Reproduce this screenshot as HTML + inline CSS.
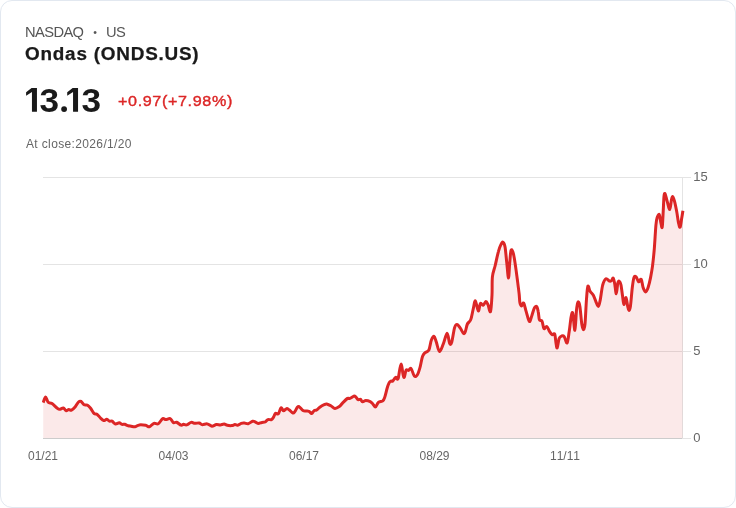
<!DOCTYPE html>
<html><head><meta charset="utf-8"><title>Ondas (ONDS.US)</title>
<style>
html,body{margin:0;padding:0;background:#fff;}
body{width:736px;height:508px;overflow:hidden;font-family:"Liberation Sans",sans-serif;}
.card{position:absolute;left:0;top:0;width:734px;height:506px;border:1px solid #e2e8f0;border-radius:12px;background:#fff;}
.t{will-change:transform;position:absolute;white-space:nowrap;line-height:1;}
#exch{left:25px;top:24.5px;font-size:14.7px;color:#555;letter-spacing:-0.6px;}
#exch .dot{display:inline-block;width:22.5px;text-align:center;font-size:10.5px;vertical-align:1px;}
#name{-webkit-text-stroke:0.25px #1a1a1a;left:25.3px;top:44.6px;font-size:18px;font-weight:700;color:#1a1a1a;letter-spacing:0.74px;transform:scaleX(1.05);transform-origin:0 0;}
#price{left:23.5px;top:82.5px;font-size:33.5px;font-weight:700;color:#1a1a1a;letter-spacing:-1.7px;}
#chg{left:118px;top:93px;font-size:15.5px;color:#dc2626;letter-spacing:0.61px;transform:scaleX(1.04);transform-origin:0 0;-webkit-text-stroke:0.4px #dc2626;}
#close{left:25.5px;top:137.5px;font-size:12px;color:#666;letter-spacing:0.36px;}
svg{position:absolute;left:0;top:0;will-change:transform;}
svg text{font-family:"Liberation Sans",sans-serif;font-size:12px;fill:#666;font-kerning:none;}
svg .yl text{font-size:13px;}
</style></head><body>
<div class="card"></div>
<div class="t" id="exch">NASDAQ<span class="dot">•</span>US</div>
<div class="t" id="name">Ondas (ONDS.US)</div>
<div class="t" id="chg">+0.97(+7.98%)</div>
<div class="t" id="close">At close:2026/1/20</div>
<svg width="736" height="508" viewBox="0 0 736 508">
<g stroke="#e4e4e4" stroke-width="1" shape-rendering="crispEdges">
<line x1="43" y1="177.5" x2="691" y2="177.5"/>
<line x1="43" y1="264.5" x2="691" y2="264.5"/>
<line x1="43" y1="351.5" x2="691" y2="351.5"/>
<line x1="682" y1="438.5" x2="691" y2="438.5"/>
<line x1="682.5" y1="177" x2="682.5" y2="438"/>
</g>
<path d="M43.2,402.6C43.6,401.7 44.7,397.1 45.5,397.0C46.3,396.9 47.1,401.2 48.2,402.3C49.3,403.4 50.4,402.4 52.0,403.5C53.6,404.6 56.3,407.7 57.7,408.6C59.1,409.6 59.3,409.3 60.2,409.2C61.1,409.1 62.3,407.8 63.3,408.0C64.3,408.2 65.2,410.4 66.1,410.7C67.0,410.9 67.9,409.6 68.8,409.5C69.7,409.4 70.4,410.6 71.5,410.1C72.6,409.6 74.1,408.1 75.3,406.7C76.5,405.3 77.5,402.9 78.5,402.0C79.5,401.1 80.1,400.9 81.0,401.4C81.9,401.9 83.0,404.2 84.1,404.8C85.1,405.4 86.2,404.7 87.3,405.2C88.3,405.7 89.2,406.6 90.4,408.0C91.6,409.4 93.1,412.6 94.2,413.6C95.3,414.6 96.0,413.5 97.0,414.2C98.0,414.9 99.4,416.9 100.5,418.0C101.6,419.1 102.7,420.3 103.7,420.5C104.8,420.7 105.8,419.2 106.8,419.3C107.8,419.4 108.5,420.9 109.4,421.2C110.3,421.5 111.1,420.7 112.1,421.2C113.1,421.7 114.2,423.7 115.4,424.0C116.6,424.3 118.1,422.8 119.2,422.8C120.3,422.9 121.1,424.1 122.0,424.3C122.9,424.6 123.7,424.1 124.7,424.3C125.8,424.6 127.2,425.5 128.3,425.8C129.4,426.1 130.1,426.0 131.2,426.2C132.3,426.4 133.6,427.0 134.9,426.8C136.2,426.6 137.5,425.1 139.3,424.9C141.1,424.6 144.0,425.0 145.7,425.3C147.4,425.6 148.0,427.1 149.4,426.8C150.8,426.5 152.4,423.8 153.9,423.3C155.4,422.8 156.8,424.5 158.3,423.7C159.8,422.9 161.4,419.3 162.7,418.6C163.9,417.9 164.6,419.6 165.8,419.6C167.1,419.6 168.9,418.1 170.2,418.6C171.5,419.1 172.3,422.1 173.4,422.7C174.5,423.3 175.3,421.8 176.6,422.2C177.9,422.6 179.8,424.8 181.0,425.2C182.2,425.6 182.6,424.4 183.5,424.3C184.4,424.2 185.3,425.2 186.6,424.9C187.9,424.6 189.7,422.7 191.1,422.4C192.5,422.1 193.5,423.2 194.8,423.3C196.2,423.4 197.9,422.8 199.2,423.0C200.5,423.2 201.0,424.6 202.4,424.7C203.8,424.8 205.8,423.6 207.4,423.9C209.0,424.1 210.4,426.1 211.9,426.2C213.4,426.3 214.9,424.8 216.3,424.6C217.7,424.4 219.1,425.0 220.4,424.9C221.7,424.8 223.0,424.0 224.2,424.1C225.3,424.2 226.0,425.1 227.3,425.3C228.6,425.6 230.5,425.7 231.8,425.6C233.1,425.5 233.9,424.7 234.9,424.6C235.9,424.5 236.6,425.4 237.7,425.2C238.8,425.0 240.1,423.7 241.2,423.3C242.3,422.9 243.2,422.9 244.4,423.0C245.6,423.1 246.8,424.0 248.2,423.7C249.6,423.4 251.4,421.5 252.6,421.2C253.8,420.9 254.2,421.4 255.1,421.8C256.0,422.2 257.1,423.3 258.2,423.4C259.3,423.5 260.8,422.6 262.0,422.4C263.2,422.2 264.2,422.5 265.2,422.0C266.2,421.5 266.9,420.0 268.0,419.6C269.1,419.2 270.5,420.1 271.5,419.6C272.5,419.1 273.1,417.8 273.8,416.7C274.5,415.6 274.7,413.8 275.5,413.3C276.3,412.8 277.5,414.7 278.4,413.8C279.3,412.9 280.1,408.4 281.0,407.9C281.9,407.4 282.6,410.7 283.5,410.8C284.4,410.9 285.7,408.8 286.6,408.6C287.5,408.4 288.1,409.1 289.1,409.8C290.2,410.5 291.9,412.7 292.9,413.0C293.8,413.3 294.1,412.6 294.8,411.7C295.5,410.8 296.6,408.1 297.3,407.3C298.0,406.5 298.2,406.2 299.2,406.7C300.1,407.2 301.9,409.7 303.0,410.4C304.1,411.1 304.5,411.0 305.5,411.1C306.5,411.2 308.0,410.9 309.0,411.3C310.0,411.7 310.8,413.6 311.6,413.5C312.5,413.4 313.3,411.2 314.1,410.6C314.9,410.0 315.7,410.6 316.6,410.0C317.6,409.4 318.5,408.1 319.8,407.2C321.1,406.3 323.1,405.2 324.2,404.7C325.3,404.2 325.5,403.8 326.7,404.0C327.9,404.2 329.7,405.3 331.1,406.0C332.5,406.7 333.5,408.3 334.9,408.4C336.3,408.5 338.0,407.5 339.3,406.6C340.6,405.7 341.1,404.5 342.5,403.1C343.9,401.7 346.2,399.2 347.5,398.4C348.8,397.6 348.9,398.8 350.0,398.4C351.1,398.0 352.9,396.5 353.8,396.2C354.8,395.9 355.0,396.2 355.7,396.8C356.4,397.4 357.4,399.3 358.2,399.7C359.0,400.1 359.8,398.9 360.5,399.3C361.2,399.7 361.7,401.6 362.6,401.8C363.5,402.0 364.5,400.6 365.8,400.6C367.1,400.6 369.1,401.1 370.2,401.6C371.3,402.1 371.8,402.8 372.7,403.7C373.6,404.6 374.6,407.1 375.5,406.9C376.4,406.7 377.2,403.4 378.4,402.4C379.6,401.4 381.8,401.6 382.8,400.8C383.9,400.0 384.0,399.5 384.7,397.4C385.4,395.3 386.5,390.4 387.2,388.0C387.9,385.6 388.5,384.1 389.1,382.9C389.7,381.7 390.4,381.3 391.0,381.0C391.6,380.7 392.1,381.5 392.6,381.2C393.1,380.9 393.5,379.8 394.1,379.2C394.7,378.6 395.3,377.4 396.0,377.3C396.7,377.2 397.3,380.8 398.1,378.6C398.9,376.4 400.1,364.3 401.0,364.1C401.9,363.9 402.9,376.3 403.8,377.3C404.7,378.3 405.3,371.2 406.1,370.1C406.9,369.0 407.8,370.7 408.6,370.4C409.4,370.1 410.2,367.6 411.1,368.5C412.1,369.4 413.2,374.9 414.3,376.0C415.4,377.1 416.5,376.2 417.4,374.8C418.3,373.4 419.0,370.9 419.9,367.9C420.8,364.8 421.6,359.0 422.5,356.5C423.4,354.0 423.9,353.8 425.0,352.7C426.1,351.6 427.8,352.3 428.8,350.2C429.9,348.1 430.4,342.5 431.3,340.2C432.2,337.9 433.3,336.1 434.1,336.4C434.9,336.7 435.4,339.5 436.3,342.0C437.2,344.5 438.3,351.2 439.5,351.5C440.7,351.8 442.0,346.9 443.3,343.9C444.6,340.8 446.1,333.3 447.1,333.2C448.2,333.1 448.8,341.8 449.6,343.3C450.4,344.8 450.9,345.0 451.7,342.4C452.5,339.8 453.7,330.6 454.6,327.6C455.5,324.6 456.2,324.3 457.1,324.4C458.1,324.5 459.2,326.7 460.3,328.2C461.4,329.7 462.7,333.0 463.6,333.5C464.5,334.0 464.9,332.6 465.5,331.0C466.1,329.4 466.5,325.9 467.4,324.0C468.3,322.1 469.7,322.3 470.7,319.8C471.7,317.3 472.4,312.2 473.2,309.1C474.0,306.0 474.5,300.6 475.4,300.9C476.2,301.2 477.5,310.6 478.3,311.0C479.1,311.4 479.6,304.3 480.4,303.4C481.2,302.4 482.1,305.6 483.0,305.3C483.9,305.0 485.1,301.7 485.9,301.6C486.7,301.5 487.2,303.0 488.0,304.7C488.8,306.4 489.8,313.2 490.5,311.6C491.2,310.0 491.7,300.8 492.0,295.0C492.3,289.2 491.9,281.7 492.4,276.8C492.9,271.9 494.2,269.7 495.2,265.5C496.2,261.3 497.4,255.1 498.4,251.6C499.3,248.1 500.1,246.3 500.9,244.7C501.7,243.1 502.3,241.8 503.0,242.2C503.7,242.6 504.5,243.7 505.1,247.2C505.7,250.7 506.2,257.9 506.8,263.0C507.4,268.1 508.0,278.1 508.5,278.1C509.0,278.1 509.3,267.2 509.7,263.0C510.1,258.8 510.3,255.1 510.6,252.9C510.9,250.7 511.1,249.5 511.6,249.7C512.1,249.9 512.8,251.4 513.5,254.2C514.2,257.0 515.0,262.5 515.6,266.7C516.2,270.9 516.7,274.7 517.3,279.3C517.9,283.9 518.8,290.6 519.2,294.5C519.6,298.4 519.5,300.9 519.9,302.8C520.3,304.7 520.9,305.9 521.5,306.0C522.1,306.1 522.9,302.2 523.7,303.1C524.5,304.0 525.2,308.5 526.2,311.6C527.2,314.7 528.5,320.9 529.4,321.5C530.3,322.1 531.1,317.7 531.9,315.4C532.7,313.1 533.6,309.4 534.4,307.9C535.2,306.4 536.1,306.0 536.7,306.6C537.3,307.2 537.8,309.4 538.2,311.6C538.7,313.8 538.8,318.2 539.4,319.8C540.0,321.4 541.2,319.6 542.0,321.1C542.8,322.6 543.1,327.7 543.9,328.6C544.7,329.5 545.8,326.0 546.8,326.5C547.8,327.0 548.8,330.2 549.7,331.6C550.6,333.0 551.4,334.3 552.2,334.7C553.0,335.1 554.1,332.7 554.7,334.1C555.3,335.5 555.6,340.6 556.0,342.9C556.4,345.2 556.7,348.6 557.2,347.9C557.7,347.2 558.4,340.5 559.1,338.5C559.9,336.5 560.9,336.3 561.7,336.0C562.6,335.7 563.3,335.5 564.2,336.6C565.1,337.8 566.3,343.7 567.1,342.9C567.9,342.1 568.5,335.9 569.2,331.6C569.9,327.3 570.5,320.2 571.1,317.1C571.7,314.1 572.2,311.1 572.8,313.3C573.4,315.5 574.3,330.8 574.9,330.3C575.5,329.8 576.0,314.9 576.5,310.2C577.0,305.5 577.4,302.6 578.0,302.0C578.6,301.4 579.3,302.7 579.9,306.4C580.5,310.1 581.2,320.1 581.8,324.0C582.4,327.9 582.8,329.7 583.3,329.7C583.8,329.7 584.5,329.1 585.0,324.0C585.5,318.9 586.0,305.3 586.5,299.0C587.0,292.7 587.3,287.5 587.9,286.2C588.5,284.9 589.2,289.8 590.1,291.3C591.0,292.8 592.2,293.3 593.2,295.0C594.2,296.7 594.9,299.4 595.8,301.3C596.6,303.2 597.6,306.6 598.3,306.4C599.0,306.2 599.5,303.7 600.2,300.1C600.9,296.5 601.8,288.6 602.7,285.0C603.7,281.4 604.8,279.3 605.9,278.7C607.0,278.1 608.7,280.9 609.6,281.2C610.5,281.5 610.9,281.1 611.5,280.6C612.1,280.1 612.7,277.5 613.2,278.0C613.7,278.5 614.2,281.1 614.7,283.7C615.2,286.3 615.8,293.9 616.3,293.8C616.8,293.7 617.3,285.2 617.8,283.1C618.3,281.0 618.8,280.9 619.3,281.2C619.8,281.5 620.5,282.5 621.0,285.0C621.5,287.5 622.1,293.1 622.6,296.3C623.1,299.6 623.3,304.3 623.9,304.5C624.5,304.7 625.4,297.3 626.0,297.6C626.6,297.9 627.2,304.3 627.7,306.4C628.2,308.5 628.5,310.4 628.9,310.4C629.3,310.4 629.8,310.2 630.4,306.4C631.0,302.6 631.7,292.3 632.3,287.5C632.9,282.7 633.4,279.2 634.0,277.4C634.6,275.6 635.3,276.1 636.1,276.8C636.9,277.5 637.8,281.4 638.6,281.8C639.5,282.2 640.5,278.4 641.2,279.3C642.0,280.2 642.4,285.4 643.1,287.5C643.8,289.6 644.8,291.9 645.6,291.9C646.4,291.9 647.3,289.9 648.1,287.5C648.9,285.1 649.9,281.0 650.6,277.4C651.3,273.8 651.9,270.7 652.5,266.1C653.1,261.5 653.6,256.8 654.2,250.0C654.8,243.2 655.4,230.7 655.9,225.3C656.4,219.9 656.5,219.6 657.1,217.8C657.7,216.0 658.7,213.8 659.3,214.6C659.9,215.4 660.4,220.7 660.9,222.8C661.4,224.9 661.8,229.1 662.2,227.2C662.6,225.3 662.9,216.6 663.2,211.5C663.5,206.4 663.7,199.3 664.0,196.4C664.3,193.5 664.6,193.1 665.1,193.9C665.6,194.7 666.4,198.8 667.2,201.4C668.0,204.0 669.0,209.8 669.7,209.6C670.4,209.4 670.9,202.4 671.4,200.2C671.9,198.0 672.1,196.3 672.6,196.4C673.1,196.5 673.7,198.3 674.4,200.8C675.1,203.3 676.0,207.8 676.7,211.5C677.4,215.2 677.9,220.2 678.5,222.8C679.1,225.4 679.6,227.9 680.1,227.2C680.6,226.4 681.2,221.0 681.7,218.3C682.2,215.6 682.7,212.1 682.9,210.8L682.5,438L43.2,438Z" fill="rgba(220,38,38,0.1)" stroke="none"/>
<line x1="43" y1="438.5" x2="682" y2="438.5" stroke="#ccc" stroke-width="1" shape-rendering="crispEdges"/>
<path d="M43.2,402.6C43.6,401.7 44.7,397.1 45.5,397.0C46.3,396.9 47.1,401.2 48.2,402.3C49.3,403.4 50.4,402.4 52.0,403.5C53.6,404.6 56.3,407.7 57.7,408.6C59.1,409.6 59.3,409.3 60.2,409.2C61.1,409.1 62.3,407.8 63.3,408.0C64.3,408.2 65.2,410.4 66.1,410.7C67.0,410.9 67.9,409.6 68.8,409.5C69.7,409.4 70.4,410.6 71.5,410.1C72.6,409.6 74.1,408.1 75.3,406.7C76.5,405.3 77.5,402.9 78.5,402.0C79.5,401.1 80.1,400.9 81.0,401.4C81.9,401.9 83.0,404.2 84.1,404.8C85.1,405.4 86.2,404.7 87.3,405.2C88.3,405.7 89.2,406.6 90.4,408.0C91.6,409.4 93.1,412.6 94.2,413.6C95.3,414.6 96.0,413.5 97.0,414.2C98.0,414.9 99.4,416.9 100.5,418.0C101.6,419.1 102.7,420.3 103.7,420.5C104.8,420.7 105.8,419.2 106.8,419.3C107.8,419.4 108.5,420.9 109.4,421.2C110.3,421.5 111.1,420.7 112.1,421.2C113.1,421.7 114.2,423.7 115.4,424.0C116.6,424.3 118.1,422.8 119.2,422.8C120.3,422.9 121.1,424.1 122.0,424.3C122.9,424.6 123.7,424.1 124.7,424.3C125.8,424.6 127.2,425.5 128.3,425.8C129.4,426.1 130.1,426.0 131.2,426.2C132.3,426.4 133.6,427.0 134.9,426.8C136.2,426.6 137.5,425.1 139.3,424.9C141.1,424.6 144.0,425.0 145.7,425.3C147.4,425.6 148.0,427.1 149.4,426.8C150.8,426.5 152.4,423.8 153.9,423.3C155.4,422.8 156.8,424.5 158.3,423.7C159.8,422.9 161.4,419.3 162.7,418.6C163.9,417.9 164.6,419.6 165.8,419.6C167.1,419.6 168.9,418.1 170.2,418.6C171.5,419.1 172.3,422.1 173.4,422.7C174.5,423.3 175.3,421.8 176.6,422.2C177.9,422.6 179.8,424.8 181.0,425.2C182.2,425.6 182.6,424.4 183.5,424.3C184.4,424.2 185.3,425.2 186.6,424.9C187.9,424.6 189.7,422.7 191.1,422.4C192.5,422.1 193.5,423.2 194.8,423.3C196.2,423.4 197.9,422.8 199.2,423.0C200.5,423.2 201.0,424.6 202.4,424.7C203.8,424.8 205.8,423.6 207.4,423.9C209.0,424.1 210.4,426.1 211.9,426.2C213.4,426.3 214.9,424.8 216.3,424.6C217.7,424.4 219.1,425.0 220.4,424.9C221.7,424.8 223.0,424.0 224.2,424.1C225.3,424.2 226.0,425.1 227.3,425.3C228.6,425.6 230.5,425.7 231.8,425.6C233.1,425.5 233.9,424.7 234.9,424.6C235.9,424.5 236.6,425.4 237.7,425.2C238.8,425.0 240.1,423.7 241.2,423.3C242.3,422.9 243.2,422.9 244.4,423.0C245.6,423.1 246.8,424.0 248.2,423.7C249.6,423.4 251.4,421.5 252.6,421.2C253.8,420.9 254.2,421.4 255.1,421.8C256.0,422.2 257.1,423.3 258.2,423.4C259.3,423.5 260.8,422.6 262.0,422.4C263.2,422.2 264.2,422.5 265.2,422.0C266.2,421.5 266.9,420.0 268.0,419.6C269.1,419.2 270.5,420.1 271.5,419.6C272.5,419.1 273.1,417.8 273.8,416.7C274.5,415.6 274.7,413.8 275.5,413.3C276.3,412.8 277.5,414.7 278.4,413.8C279.3,412.9 280.1,408.4 281.0,407.9C281.9,407.4 282.6,410.7 283.5,410.8C284.4,410.9 285.7,408.8 286.6,408.6C287.5,408.4 288.1,409.1 289.1,409.8C290.2,410.5 291.9,412.7 292.9,413.0C293.8,413.3 294.1,412.6 294.8,411.7C295.5,410.8 296.6,408.1 297.3,407.3C298.0,406.5 298.2,406.2 299.2,406.7C300.1,407.2 301.9,409.7 303.0,410.4C304.1,411.1 304.5,411.0 305.5,411.1C306.5,411.2 308.0,410.9 309.0,411.3C310.0,411.7 310.8,413.6 311.6,413.5C312.5,413.4 313.3,411.2 314.1,410.6C314.9,410.0 315.7,410.6 316.6,410.0C317.6,409.4 318.5,408.1 319.8,407.2C321.1,406.3 323.1,405.2 324.2,404.7C325.3,404.2 325.5,403.8 326.7,404.0C327.9,404.2 329.7,405.3 331.1,406.0C332.5,406.7 333.5,408.3 334.9,408.4C336.3,408.5 338.0,407.5 339.3,406.6C340.6,405.7 341.1,404.5 342.5,403.1C343.9,401.7 346.2,399.2 347.5,398.4C348.8,397.6 348.9,398.8 350.0,398.4C351.1,398.0 352.9,396.5 353.8,396.2C354.8,395.9 355.0,396.2 355.7,396.8C356.4,397.4 357.4,399.3 358.2,399.7C359.0,400.1 359.8,398.9 360.5,399.3C361.2,399.7 361.7,401.6 362.6,401.8C363.5,402.0 364.5,400.6 365.8,400.6C367.1,400.6 369.1,401.1 370.2,401.6C371.3,402.1 371.8,402.8 372.7,403.7C373.6,404.6 374.6,407.1 375.5,406.9C376.4,406.7 377.2,403.4 378.4,402.4C379.6,401.4 381.8,401.6 382.8,400.8C383.9,400.0 384.0,399.5 384.7,397.4C385.4,395.3 386.5,390.4 387.2,388.0C387.9,385.6 388.5,384.1 389.1,382.9C389.7,381.7 390.4,381.3 391.0,381.0C391.6,380.7 392.1,381.5 392.6,381.2C393.1,380.9 393.5,379.8 394.1,379.2C394.7,378.6 395.3,377.4 396.0,377.3C396.7,377.2 397.3,380.8 398.1,378.6C398.9,376.4 400.1,364.3 401.0,364.1C401.9,363.9 402.9,376.3 403.8,377.3C404.7,378.3 405.3,371.2 406.1,370.1C406.9,369.0 407.8,370.7 408.6,370.4C409.4,370.1 410.2,367.6 411.1,368.5C412.1,369.4 413.2,374.9 414.3,376.0C415.4,377.1 416.5,376.2 417.4,374.8C418.3,373.4 419.0,370.9 419.9,367.9C420.8,364.8 421.6,359.0 422.5,356.5C423.4,354.0 423.9,353.8 425.0,352.7C426.1,351.6 427.8,352.3 428.8,350.2C429.9,348.1 430.4,342.5 431.3,340.2C432.2,337.9 433.3,336.1 434.1,336.4C434.9,336.7 435.4,339.5 436.3,342.0C437.2,344.5 438.3,351.2 439.5,351.5C440.7,351.8 442.0,346.9 443.3,343.9C444.6,340.8 446.1,333.3 447.1,333.2C448.2,333.1 448.8,341.8 449.6,343.3C450.4,344.8 450.9,345.0 451.7,342.4C452.5,339.8 453.7,330.6 454.6,327.6C455.5,324.6 456.2,324.3 457.1,324.4C458.1,324.5 459.2,326.7 460.3,328.2C461.4,329.7 462.7,333.0 463.6,333.5C464.5,334.0 464.9,332.6 465.5,331.0C466.1,329.4 466.5,325.9 467.4,324.0C468.3,322.1 469.7,322.3 470.7,319.8C471.7,317.3 472.4,312.2 473.2,309.1C474.0,306.0 474.5,300.6 475.4,300.9C476.2,301.2 477.5,310.6 478.3,311.0C479.1,311.4 479.6,304.3 480.4,303.4C481.2,302.4 482.1,305.6 483.0,305.3C483.9,305.0 485.1,301.7 485.9,301.6C486.7,301.5 487.2,303.0 488.0,304.7C488.8,306.4 489.8,313.2 490.5,311.6C491.2,310.0 491.7,300.8 492.0,295.0C492.3,289.2 491.9,281.7 492.4,276.8C492.9,271.9 494.2,269.7 495.2,265.5C496.2,261.3 497.4,255.1 498.4,251.6C499.3,248.1 500.1,246.3 500.9,244.7C501.7,243.1 502.3,241.8 503.0,242.2C503.7,242.6 504.5,243.7 505.1,247.2C505.7,250.7 506.2,257.9 506.8,263.0C507.4,268.1 508.0,278.1 508.5,278.1C509.0,278.1 509.3,267.2 509.7,263.0C510.1,258.8 510.3,255.1 510.6,252.9C510.9,250.7 511.1,249.5 511.6,249.7C512.1,249.9 512.8,251.4 513.5,254.2C514.2,257.0 515.0,262.5 515.6,266.7C516.2,270.9 516.7,274.7 517.3,279.3C517.9,283.9 518.8,290.6 519.2,294.5C519.6,298.4 519.5,300.9 519.9,302.8C520.3,304.7 520.9,305.9 521.5,306.0C522.1,306.1 522.9,302.2 523.7,303.1C524.5,304.0 525.2,308.5 526.2,311.6C527.2,314.7 528.5,320.9 529.4,321.5C530.3,322.1 531.1,317.7 531.9,315.4C532.7,313.1 533.6,309.4 534.4,307.9C535.2,306.4 536.1,306.0 536.7,306.6C537.3,307.2 537.8,309.4 538.2,311.6C538.7,313.8 538.8,318.2 539.4,319.8C540.0,321.4 541.2,319.6 542.0,321.1C542.8,322.6 543.1,327.7 543.9,328.6C544.7,329.5 545.8,326.0 546.8,326.5C547.8,327.0 548.8,330.2 549.7,331.6C550.6,333.0 551.4,334.3 552.2,334.7C553.0,335.1 554.1,332.7 554.7,334.1C555.3,335.5 555.6,340.6 556.0,342.9C556.4,345.2 556.7,348.6 557.2,347.9C557.7,347.2 558.4,340.5 559.1,338.5C559.9,336.5 560.9,336.3 561.7,336.0C562.6,335.7 563.3,335.5 564.2,336.6C565.1,337.8 566.3,343.7 567.1,342.9C567.9,342.1 568.5,335.9 569.2,331.6C569.9,327.3 570.5,320.2 571.1,317.1C571.7,314.1 572.2,311.1 572.8,313.3C573.4,315.5 574.3,330.8 574.9,330.3C575.5,329.8 576.0,314.9 576.5,310.2C577.0,305.5 577.4,302.6 578.0,302.0C578.6,301.4 579.3,302.7 579.9,306.4C580.5,310.1 581.2,320.1 581.8,324.0C582.4,327.9 582.8,329.7 583.3,329.7C583.8,329.7 584.5,329.1 585.0,324.0C585.5,318.9 586.0,305.3 586.5,299.0C587.0,292.7 587.3,287.5 587.9,286.2C588.5,284.9 589.2,289.8 590.1,291.3C591.0,292.8 592.2,293.3 593.2,295.0C594.2,296.7 594.9,299.4 595.8,301.3C596.6,303.2 597.6,306.6 598.3,306.4C599.0,306.2 599.5,303.7 600.2,300.1C600.9,296.5 601.8,288.6 602.7,285.0C603.7,281.4 604.8,279.3 605.9,278.7C607.0,278.1 608.7,280.9 609.6,281.2C610.5,281.5 610.9,281.1 611.5,280.6C612.1,280.1 612.7,277.5 613.2,278.0C613.7,278.5 614.2,281.1 614.7,283.7C615.2,286.3 615.8,293.9 616.3,293.8C616.8,293.7 617.3,285.2 617.8,283.1C618.3,281.0 618.8,280.9 619.3,281.2C619.8,281.5 620.5,282.5 621.0,285.0C621.5,287.5 622.1,293.1 622.6,296.3C623.1,299.6 623.3,304.3 623.9,304.5C624.5,304.7 625.4,297.3 626.0,297.6C626.6,297.9 627.2,304.3 627.7,306.4C628.2,308.5 628.5,310.4 628.9,310.4C629.3,310.4 629.8,310.2 630.4,306.4C631.0,302.6 631.7,292.3 632.3,287.5C632.9,282.7 633.4,279.2 634.0,277.4C634.6,275.6 635.3,276.1 636.1,276.8C636.9,277.5 637.8,281.4 638.6,281.8C639.5,282.2 640.5,278.4 641.2,279.3C642.0,280.2 642.4,285.4 643.1,287.5C643.8,289.6 644.8,291.9 645.6,291.9C646.4,291.9 647.3,289.9 648.1,287.5C648.9,285.1 649.9,281.0 650.6,277.4C651.3,273.8 651.9,270.7 652.5,266.1C653.1,261.5 653.6,256.8 654.2,250.0C654.8,243.2 655.4,230.7 655.9,225.3C656.4,219.9 656.5,219.6 657.1,217.8C657.7,216.0 658.7,213.8 659.3,214.6C659.9,215.4 660.4,220.7 660.9,222.8C661.4,224.9 661.8,229.1 662.2,227.2C662.6,225.3 662.9,216.6 663.2,211.5C663.5,206.4 663.7,199.3 664.0,196.4C664.3,193.5 664.6,193.1 665.1,193.9C665.6,194.7 666.4,198.8 667.2,201.4C668.0,204.0 669.0,209.8 669.7,209.6C670.4,209.4 670.9,202.4 671.4,200.2C671.9,198.0 672.1,196.3 672.6,196.4C673.1,196.5 673.7,198.3 674.4,200.8C675.1,203.3 676.0,207.8 676.7,211.5C677.4,215.2 677.9,220.2 678.5,222.8C679.1,225.4 679.6,227.9 680.1,227.2C680.6,226.4 681.2,221.0 681.7,218.3C682.2,215.6 682.7,212.1 682.9,210.8" fill="none" stroke="#dc2626" stroke-width="3" stroke-linejoin="round" stroke-linecap="butt"/>
<g fill="#1a1a1a" id="price">
<path d="M36.95,88.1V111.7H31.950000000000003V92.1L26.1,95.8V92.2L31.550000000000004,88.1Z"/>
<path d="M78.05,88.1V111.7H73.05V92.1L67.2,95.8V92.2L72.64999999999999,88.1Z"/>
<circle cx="64.1" cy="109.1" r="2.9"/>
<text transform="translate(39.6,111.7) scale(1.035,1)" style="font-size:34px;font-weight:700;fill:#1a1a1a">3</text>
<text transform="translate(81.4,111.7) scale(1.035,1)" style="font-size:34px;font-weight:700;fill:#1a1a1a">3</text>
</g>
<g text-anchor="start" class="yl">
<text x="693.3" y="180.9">15</text>
<text x="693.3" y="267.9">10</text>
<text x="693.3" y="354.9">5</text>
<text x="693.3" y="441.9">0</text>
</g>
<g text-anchor="middle">
<text x="43" y="460">01/21</text>
<text x="173.5" y="460">04/03</text>
<text x="304" y="460">06/17</text>
<text x="434.5" y="460">08/29</text>
<text x="565" y="460">11/11</text>
</g>
</svg>
</body></html>
